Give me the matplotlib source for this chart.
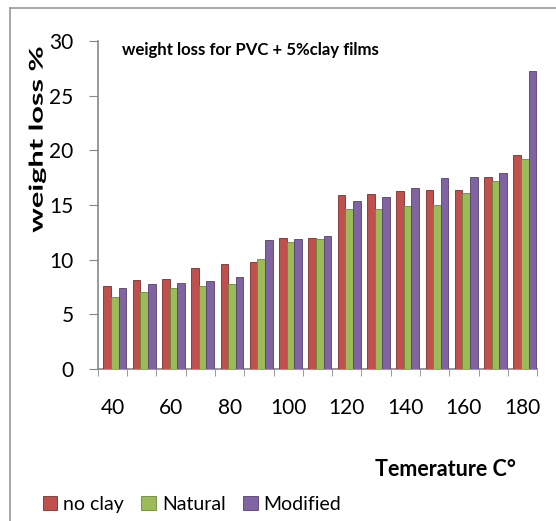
import matplotlib.pyplot as plt
import numpy as np
from matplotlib.lines import Line2D
from matplotlib.textpath import TextPath
from matplotlib.patches import PathPatch
from matplotlib.font_manager import FontProperties
from matplotlib.transforms import Affine2D, IdentityTransform

# data
temps = [40, 50, 60, 70, 80, 90, 100, 110, 120, 130, 140, 150, 160, 170, 180]
no_clay = [7.6, 8.1, 8.2, 9.2, 9.6, 9.8, 12.0, 12.0, 15.9, 16.0, 16.3, 16.4, 16.4, 17.6, 19.6]
natural = [6.6, 7.0, 7.4, 7.6, 7.8, 10.1, 11.6, 11.9, 14.6, 14.6, 14.9, 15.0, 16.1, 17.2, 19.2]
modified = [7.4, 7.8, 7.9, 8.0, 8.4, 11.8, 11.9, 12.2, 15.4, 15.7, 16.6, 17.5, 17.6, 17.9, 27.3]
series_names = ['no clay', 'Natural', 'Modified']
colors = ['#C0504D', '#9BBB59', '#8064A2']
edges = ['#7a2f2d', '#6b8a36', '#54406f']

plt.rcParams['font.family'] = ['Lato', 'DejaVu Sans']

fig = plt.figure(figsize=(5.56, 5.21), dpi=100)
ax = fig.add_axes([0.176, 0.292, 0.79, 0.629])

x = np.arange(len(temps))
w = 0.26
for i, (vals, c, ec) in enumerate(zip([no_clay, natural, modified], colors, edges)):
    ax.bar(x + (i - 1) * w + 0.08, vals, width=w, color=c, edgecolor=ec,
           linewidth=0.6, label=series_names[i], zorder=3)

ax.set_xlim(-0.5, len(temps) - 0.5)
ax.set_ylim(0, 30)
ax.set_yticks(np.arange(0, 31, 5))
ax.tick_params(axis='y', labelsize=15, length=6.5, color='#888888', pad=11)

ax.set_xticks(x[::2])
ax.set_xticklabels([str(t) for t in temps[::2]], fontsize=15)
ax.set_xticks(np.arange(-0.5, len(temps), 1), minor=True)
ax.tick_params(axis='x', which='major', length=0, pad=21)
ax.tick_params(axis='x', which='minor', length=5, color='#888888')

for s in ['top', 'right']:
    ax.spines[s].set_visible(False)
for s in ['left', 'bottom']:
    ax.spines[s].set_color('#888888')
    ax.spines[s].set_linewidth(1.2)

ax.text(0.055, 0.972, 'weight loss for PVC + 5%clay films', transform=ax.transAxes,
        fontsize=12.1, fontweight='bold', va='center', ha='left')

# y label: drawn as a path so it can be stretched along its length like the source
tp = TextPath((0, 0), 'weight loss %', size=1,
              prop=FontProperties(family='Lato', weight='bold'))
bb = tp.get_extents()
length_px, height_px = 185, 19
sx = length_px / bb.width
sy = height_px / 1.0
cx, cy = 36, 521 - 140
tr = (Affine2D().translate(-bb.x0 - bb.width / 2, -0.35)
      .scale(sx, sy).rotate_deg(90).translate(cx, cy))
fig.add_artist(PathPatch(tr.transform_path(tp), facecolor='black', edgecolor='none',
                         transform=IdentityTransform()))

fig.text(0.674, 0.098, 'Temerature C°', fontsize=15.5, fontweight='bold',
         ha='left', va='center')

fig.legend(loc='lower left', bbox_to_anchor=(0.077, 0.016), ncol=3, frameon=False,
           fontsize=14, handlelength=0.75, handleheight=0.75, handletextpad=0.3,
           columnspacing=0.9, borderpad=0, borderaxespad=0)

# outer frame lines of the source page
fig.add_artist(Line2D([0.018, 0.018], [0, 0.985], color='#999999', lw=1.2))
fig.add_artist(Line2D([0.018, 1.0], [0.985, 0.985], color='#999999', lw=1.2))

fig.savefig('out.png', dpi=100)
